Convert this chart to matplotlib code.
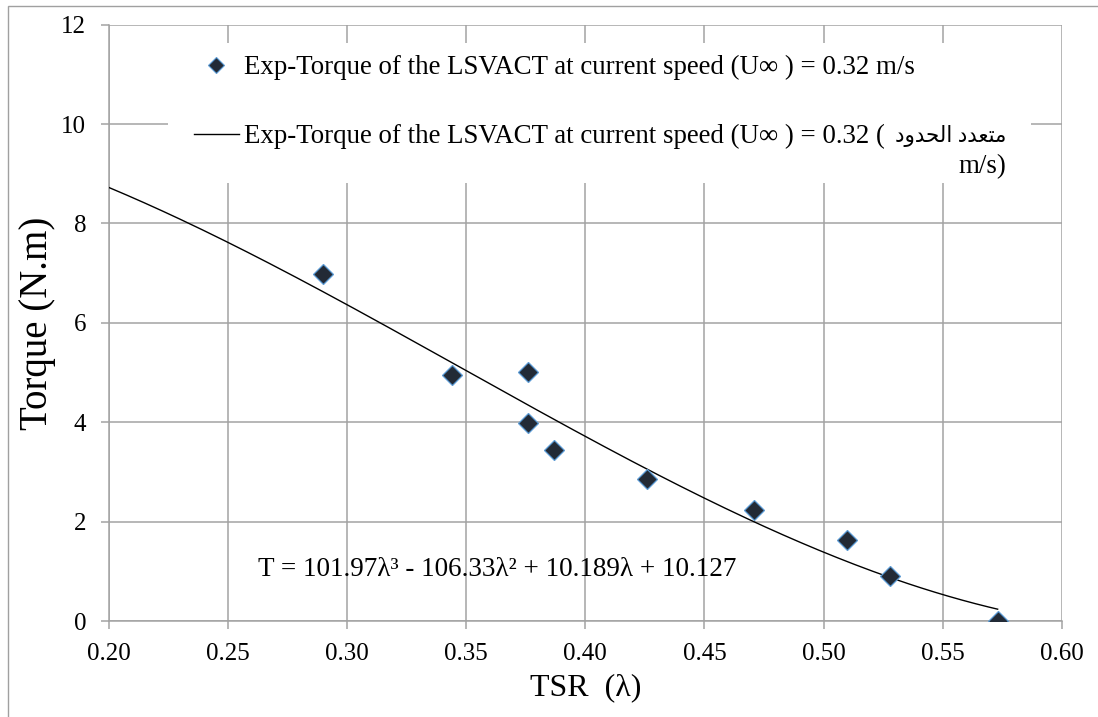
import numpy as np
import matplotlib
matplotlib.use("Agg")
import matplotlib.pyplot as plt
from matplotlib.patches import Rectangle
from matplotlib.lines import Line2D

# ---- data ----
tsr = [0.290, 0.344, 0.376, 0.376, 0.387, 0.426, 0.471, 0.510, 0.528, 0.573]
torque = [6.98, 4.95, 5.02, 3.98, 3.45, 2.85, 2.24, 1.62, 0.90, 0.00]
trend_coeffs = [101.97, -106.33, 10.189, 10.127]   # displayed trendline equation
trend_range = [0.20, 0.573]
x_ticks = [0.20, 0.25, 0.30, 0.35, 0.40, 0.45, 0.50, 0.55, 0.60]
y_ticks = [0, 2, 4, 6, 8, 10, 12]

series_label = "Exp-Torque of the LSVACT at current speed (U\u221e ) = 0.32 m/s"
# Arabic "متعدد الحدود" (polynomial) in shaped presentation forms, visual order
arabic_poly = "\uFEA9\uFEED\uFEAA\uFEA4\uFEDF\uFE8D \uFEA9\uFEAA\uFECC\uFE98\uFEE3"
trend_label_line1 = "Exp-Torque of the LSVACT at current speed (U\u221e ) = 0.32 ("
trend_label_line2 = "m/s)"
equation = "T = 101.97\u03bb\u00b3 - 106.33\u03bb\u00b2 + 10.189\u03bb + 10.127"

FAM = ["Liberation Serif", "DejaVu Sans"]
plt.rcParams["font.family"] = FAM

grid_c = "#a3a3a3"
fig = plt.figure(figsize=(10.98, 7.17), dpi=100)
W, H = 1098, 717

# outer chart border (left and top visible)
fig.patches.append(Rectangle((8 / W, -0.1), 1.2, 1 - 5.5 / H + 0.1, transform=fig.transFigure,
                             fill=False, edgecolor="#a0a0a0", lw=1.0))

AX_L, AX_R, AX_T, AX_B = 108.5, 1062, 24.7, 621
ax = fig.add_axes([AX_L / W, 1 - AX_B / H, (AX_R - AX_L) / W, (AX_B - AX_T) / H])
AW, AH = AX_R - AX_L, AX_B - AX_T
def axx(px):
    return (px - AX_L) / AW
def axy(py):
    return (AX_B - py) / AH

ax.set_xlim(0.20, 0.60)
ax.set_ylim(0, 12)
ax.set_xticks(x_ticks)
ax.set_yticks(y_ticks)
ax.set_xticklabels([f"{v:.2f}" for v in x_ticks])
ax.set_yticklabels([str(v) for v in y_ticks])
ax.grid(True, color=grid_c, lw=1.1, zorder=0)
ax.set_axisbelow(True)
for s in ["top", "right"]:
    ax.spines[s].set_visible(False)
for s in ["left", "bottom"]:
    ax.spines[s].set_color(grid_c)
    ax.spines[s].set_linewidth(1.1)
ax.tick_params(direction="out", length=6, width=1.1, color=grid_c, labelsize=18, pad=10)

# white legend background covering grid
ax.add_patch(Rectangle((axx(168), axy(183)), (1031 - 168) / AW, (183 - 43) / AH,
                       transform=ax.transAxes, facecolor="white", edgecolor="none", zorder=1.5))

# trendline
xs = np.linspace(trend_range[0], trend_range[1], 200)
ax.plot(xs, np.polyval(trend_coeffs, xs), color="black", lw=1.0, zorder=3)

# data points
ax.plot(tsr, torque, linestyle="none", marker="D", markersize=10.5, markerfacecolor="#222a36",
        markeredgecolor="#5b9bd5", markeredgewidth=0.9, zorder=4)

# legend
LFS = 19.4
h1 = Line2D([], [], linestyle="none", marker="D", markersize=8, markerfacecolor="#222a36",
            markeredgecolor="#5b9bd5", markeredgewidth=0.8)
h2 = Line2D([], [], color="black", lw=1.0)
leg = ax.legend([h1, h2], [series_label, trend_label_line1], loc="upper left",
                bbox_to_anchor=(axx(194), axy(55)), frameon=False,
                fontsize=LFS, handlelength=1.67, handletextpad=0.19, labelspacing=1.62,
                borderaxespad=0, borderpad=0)
leg.set_zorder(5)

fig.canvas.draw()
tb = leg.get_texts()[1].get_window_extent(fig.canvas.get_renderer())
inv = ax.transAxes.inverted()
(x1a, y0a), (x1b, y1a) = inv.transform([(tb.x1, tb.y0), (tb.x1, tb.y1)])
ax.text(x1a + 10 / AW, (y0a + y1a) / 2, arabic_poly, transform=ax.transAxes,
        ha="left", va="center", fontsize=15.5, zorder=6)
ax.text(axx(1006), axy(167), trend_label_line2, transform=ax.transAxes,
        ha="right", va="center", fontsize=LFS, zorder=6)

# equation
ax.text(axx(258), axy(570), equation, fontsize=19.5, ha="left", va="center", zorder=6,
        transform=ax.transAxes)

ax.set_xlabel("TSR  (\u03bb)", fontsize=23, labelpad=6)
ax.set_ylabel("Torque (N.m)", fontsize=28, labelpad=4)

fig.savefig("out.png", dpi=100)
